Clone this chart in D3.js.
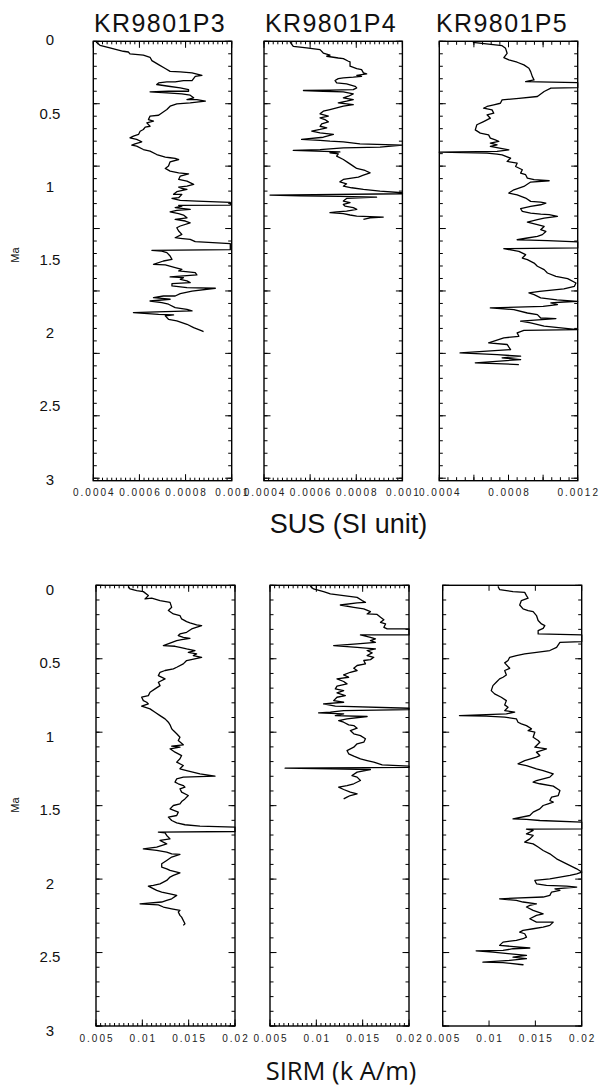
<!DOCTYPE html>
<html>
<head>
<meta charset="utf-8">
<script src="https://cdn.jsdelivr.net/npm/d3@7"></script>
<style>
body { margin: 0; background: #fff; }
text { font-family: "Liberation Sans", Arial, sans-serif; fill: #111; }
</style>
</head>
<body>
<script>
// ages in Ma; SUS values in 1e-4 SI, SIRM values in 1e-3 kA/m
var coreNames = ["KR9801P3", "KR9801P4", "KR9801P5"];
var ageLabels = [0, 0.5, 1, 1.5, 2, 2.5, 3];
var susDomains = [[0.0004, 0.001], [0.0004, 0.001], [0.0004, 0.0012]];
var susLabels = [[0.0004, 0.0006, 0.0008, 0.001], [0.0004, 0.0006, 0.0008, 0.001], [0.0004, 0.0008, 0.0012]];
var sirmDomain = [0.005, 0.02];
var sirmLabels = [0.005, 0.01, 0.015, 0.02];

var susP3 = [[0.005,4.12],[0.027,4.29],[0.045,4.72],[0.068,5.30],[0.073,5.52],[0.086,5.59],[0.095,6.17],[0.109,6.46],[0.132,6.54],[0.159,6.83],[0.186,7.12],[0.205,7.33],[0.209,7.77],[0.216,8.28],[0.232,8.71],[0.239,8.42],[0.268,8.28],[0.268,7.91],[0.277,7.55],[0.277,7.19],[0.284,6.83],[0.295,6.75],[0.307,7.26],[0.318,7.77],[0.330,8.13],[0.341,8.13],[0.341,7.70],[0.341,7.26],[0.345,6.46],[0.352,7.19],[0.359,7.84],[0.368,8.20],[0.386,8.35],[0.398,8.06],[0.398,8.49],[0.409,8.86],[0.420,8.20],[0.427,7.62],[0.443,7.33],[0.466,7.19],[0.489,6.97],[0.505,6.83],[0.511,6.46],[0.534,6.39],[0.545,6.61],[0.557,6.32],[0.580,6.46],[0.586,6.25],[0.602,6.17],[0.614,6.03],[0.636,5.96],[0.648,5.74],[0.659,5.59],[0.670,5.88],[0.686,6.10],[0.700,5.81],[0.709,5.67],[0.716,5.88],[0.739,6.17],[0.750,6.46],[0.773,6.75],[0.791,7.12],[0.795,7.33],[0.800,7.55],[0.807,7.70],[0.823,7.33],[0.852,7.26],[0.868,7.12],[0.886,7.33],[0.898,7.70],[0.905,8.13],[0.920,7.77],[0.943,7.70],[0.955,8.06],[0.977,8.35],[0.989,8.06],[0.995,7.70],[1.005,7.84],[1.011,8.06],[1.027,7.62],[1.045,7.48],[1.045,7.84],[1.068,7.70],[1.073,7.41],[1.086,7.77],[1.091,8.49],[1.100,9.94],[1.118,9.94],[1.120,7.70],[1.125,7.84],[1.136,7.55],[1.148,8.20],[1.155,7.62],[1.164,7.33],[1.177,7.70],[1.186,7.91],[1.205,8.06],[1.216,7.55],[1.227,7.99],[1.239,8.20],[1.261,7.77],[1.273,7.62],[1.295,7.70],[1.318,7.84],[1.341,7.55],[1.345,7.77],[1.352,8.20],[1.368,8.42],[1.382,9.94],[1.423,9.94],[1.427,6.54],[1.432,6.97],[1.443,7.19],[1.466,7.33],[1.489,7.41],[1.500,7.04],[1.523,6.61],[1.527,7.12],[1.545,7.55],[1.557,7.84],[1.568,7.70],[1.580,8.42],[1.595,8.49],[1.609,7.33],[1.614,7.91],[1.625,7.77],[1.636,8.06],[1.648,8.20],[1.655,7.41],[1.670,7.41],[1.682,8.06],[1.686,9.29],[1.705,8.28],[1.723,7.77],[1.739,7.55],[1.739,7.04],[1.750,6.61],[1.761,7.33],[1.773,6.46],[1.784,6.97],[1.795,7.26],[1.818,7.55],[1.830,8.06],[1.841,8.28],[1.848,6.75],[1.852,5.74],[1.864,6.83],[1.868,7.48],[1.875,7.12],[1.898,7.26],[1.909,7.62],[1.932,8.06],[1.955,8.35],[1.977,8.71],[1.982,8.78]];

var susP4 = [[0.005,5.13],[0.034,5.27],[0.045,5.85],[0.057,6.43],[0.080,6.57],[0.095,6.86],[0.102,6.72],[0.114,7.22],[0.118,7.44],[0.136,7.66],[0.141,7.73],[0.170,7.73],[0.186,8.02],[0.193,8.23],[0.216,8.31],[0.223,8.45],[0.232,8.02],[0.239,8.23],[0.245,7.87],[0.250,7.44],[0.255,7.22],[0.268,7.08],[0.284,7.15],[0.291,7.58],[0.307,7.95],[0.318,8.02],[0.330,7.87],[0.334,6.86],[0.336,5.71],[0.341,6.57],[0.345,7.44],[0.359,7.87],[0.375,7.66],[0.386,7.44],[0.398,7.87],[0.409,7.58],[0.420,7.22],[0.432,7.87],[0.443,7.44],[0.455,7.15],[0.466,6.86],[0.477,6.57],[0.495,6.43],[0.511,6.79],[0.523,6.43],[0.534,6.64],[0.550,6.79],[0.564,6.50],[0.580,6.43],[0.591,6.72],[0.602,6.43],[0.614,6.07],[0.625,6.43],[0.636,7.01],[0.655,6.57],[0.670,5.63],[0.677,6.43],[0.682,6.86],[0.686,7.44],[0.700,8.16],[0.709,10.0],[0.723,9.03],[0.727,7.44],[0.739,6.43],[0.745,5.27],[0.750,6.28],[0.755,7.29],[0.761,6.86],[0.768,7.22],[0.784,7.15],[0.807,7.44],[0.830,7.66],[0.852,7.87],[0.868,8.02],[0.882,8.38],[0.898,8.60],[0.914,8.31],[0.927,8.09],[0.932,7.87],[0.943,7.44],[0.959,7.29],[0.973,7.58],[0.989,7.44],[1.000,7.80],[1.011,8.31],[1.023,9.03],[1.034,10.0],[1.041,10.0],[1.050,4.26],[1.055,5.56],[1.059,7.29],[1.064,8.88],[1.073,7.58],[1.091,7.44],[1.102,7.73],[1.114,7.44],[1.125,7.51],[1.136,7.87],[1.148,8.02],[1.159,7.58],[1.164,7.15],[1.170,6.86],[1.177,7.44],[1.186,7.73],[1.193,8.02],[1.200,9.17],[1.205,8.60],[1.216,8.31]];

var susP5 = [[0.007,5.94],[0.030,7.63],[0.048,7.83],[0.082,7.92],[0.111,7.73],[0.127,8.02],[0.143,8.50],[0.161,8.89],[0.184,9.18],[0.207,9.28],[0.241,9.38],[0.264,9.48],[0.270,9.18],[0.275,8.99],[0.282,12.0],[0.316,12.0],[0.320,10.45],[0.343,10.06],[0.377,9.67],[0.389,8.60],[0.400,7.63],[0.423,7.53],[0.434,7.15],[0.445,6.76],[0.457,6.56],[0.468,7.05],[0.491,7.15],[0.502,6.76],[0.525,6.95],[0.548,6.56],[0.570,6.17],[0.605,6.08],[0.627,6.37],[0.639,6.85],[0.661,6.95],[0.673,7.24],[0.684,7.44],[0.695,6.95],[0.707,7.34],[0.718,6.95],[0.741,8.02],[0.752,7.34],[0.757,4.00],[0.764,6.76],[0.770,7.34],[0.775,7.63],[0.798,8.12],[0.820,7.92],[0.832,8.50],[0.855,8.41],[0.877,8.80],[0.900,8.70],[0.911,8.99],[0.934,9.09],[0.945,9.48],[0.952,10.35],[0.961,9.28],[0.991,8.89],[1.014,8.31],[1.036,8.02],[1.048,8.50],[1.070,8.99],[1.093,9.28],[1.098,9.86],[1.105,10.16],[1.116,9.86],[1.127,9.28],[1.143,8.70],[1.161,8.80],[1.173,9.28],[1.180,9.86],[1.184,10.35],[1.195,10.83],[1.207,10.06],[1.218,9.67],[1.234,9.09],[1.252,9.67],[1.264,10.06],[1.286,9.86],[1.298,10.16],[1.320,9.96],[1.332,9.67],[1.343,9.09],[1.355,8.50],[1.358,9.28],[1.361,10.25],[1.370,12.0],[1.411,12.0],[1.416,7.73],[1.434,8.60],[1.457,8.99],[1.480,8.80],[1.491,9.09],[1.514,9.48],[1.536,9.67],[1.559,10.06],[1.582,10.25],[1.605,10.74],[1.620,11.42],[1.650,11.90],[1.673,11.81],[1.690,11.20],[1.707,9.80],[1.718,9.18],[1.730,9.48],[1.752,9.86],[1.765,10.80],[1.775,12.0],[1.780,11.20],[1.786,10.45],[1.798,10.83],[1.810,10.00],[1.820,6.95],[1.832,8.31],[1.855,9.09],[1.866,9.67],[1.889,9.86],[1.893,10.74],[1.911,8.70],[1.923,9.28],[1.945,10.06],[1.968,12.0],[1.973,8.89],[1.991,8.50],[2.014,8.60],[2.025,7.73],[2.059,6.85],[2.070,7.92],[2.105,8.12],[2.127,5.20],[2.139,7.34],[2.150,8.70],[2.161,7.63],[2.173,8.70],[2.195,6.08],[2.207,8.60]];

var sirmP3 = [[0.007,8.49],[0.025,8.67],[0.036,9.39],[0.043,10.11],[0.070,10.65],[0.093,10.29],[0.088,11.01],[0.104,11.91],[0.116,12.99],[0.150,13.17],[0.172,12.81],[0.195,13.35],[0.206,14.06],[0.229,14.24],[0.247,14.78],[0.256,15.14],[0.270,15.86],[0.274,16.40],[0.297,15.32],[0.320,14.78],[0.331,14.06],[0.342,13.88],[0.354,14.42],[0.361,15.14],[0.370,14.24],[0.376,13.71],[0.410,12.27],[0.415,13.53],[0.422,14.06],[0.433,14.78],[0.444,15.68],[0.456,14.96],[0.467,15.86],[0.478,15.50],[0.490,16.40],[0.512,14.78],[0.535,14.42],[0.558,13.71],[0.569,13.35],[0.580,12.45],[0.592,11.91],[0.615,11.73],[0.637,12.45],[0.660,11.73],[0.683,11.91],[0.705,11.37],[0.728,10.83],[0.751,10.65],[0.762,9.93],[0.785,10.11],[0.796,10.47],[0.807,10.65],[0.823,9.93],[0.841,10.83],[0.864,11.37],[0.887,11.91],[0.909,12.45],[0.932,12.81],[0.950,12.99],[0.977,13.17],[0.989,13.35],[1.011,13.71],[1.034,14.06],[1.057,13.88],[1.086,14.42],[1.095,13.17],[1.102,14.06],[1.113,12.99],[1.136,13.53],[1.159,14.24],[1.181,14.06],[1.204,13.71],[1.227,14.42],[1.249,14.06],[1.261,14.78],[1.283,16.22],[1.299,17.84],[1.306,14.42],[1.317,13.71],[1.340,13.53],[1.351,13.88],[1.363,14.42],[1.374,14.60],[1.385,14.06],[1.408,14.24],[1.431,14.96],[1.454,14.60],[1.472,14.24],[1.488,14.06],[1.499,13.35],[1.522,12.99],[1.544,13.88],[1.567,13.71],[1.578,12.81],[1.601,13.17],[1.617,13.71],[1.630,14.60],[1.639,16.22],[1.646,20.0],[1.676,20.0],[1.680,11.73],[1.685,12.45],[1.703,12.63],[1.726,12.99],[1.737,11.91],[1.760,12.63],[1.782,11.55],[1.794,10.11],[1.805,11.55],[1.816,12.63],[1.828,13.17],[1.832,14.06],[1.850,13.17],[1.873,12.63],[1.896,12.09],[1.918,12.09],[1.930,12.63],[1.941,12.99],[1.957,14.06],[1.975,13.35],[1.986,12.99],[2.009,12.63],[2.032,11.91],[2.043,11.19],[2.048,10.65],[2.077,11.55],[2.088,12.09],[2.100,12.99],[2.111,13.71],[2.134,13.17],[2.145,12.63],[2.156,12.09],[2.168,9.75],[2.175,11.73],[2.190,12.27],[2.202,13.17],[2.213,14.06],[2.224,13.88],[2.247,14.06],[2.259,14.24],[2.304,14.60],[2.315,14.42]];

var sirmP4 = [[0.007,9.34],[0.025,9.70],[0.043,10.78],[0.059,11.51],[0.070,12.95],[0.082,14.40],[0.104,14.94],[0.116,15.30],[0.120,14.40],[0.134,12.59],[0.150,14.04],[0.161,15.12],[0.179,15.84],[0.195,15.48],[0.198,16.56],[0.218,16.93],[0.234,17.29],[0.252,16.93],[0.263,17.47],[0.286,17.29],[0.297,17.65],[0.297,20.0],[0.338,20.0],[0.338,14.76],[0.354,15.84],[0.365,16.38],[0.376,15.84],[0.388,16.38],[0.399,14.40],[0.410,11.87],[0.422,14.40],[0.429,15.66],[0.433,16.38],[0.444,15.48],[0.460,16.02],[0.478,15.48],[0.490,16.20],[0.506,15.84],[0.512,15.12],[0.535,15.30],[0.546,14.40],[0.565,14.04],[0.580,14.40],[0.592,13.67],[0.610,12.95],[0.626,13.49],[0.637,12.23],[0.655,12.95],[0.671,13.31],[0.687,12.23],[0.705,12.05],[0.717,12.95],[0.732,12.23],[0.751,13.13],[0.762,12.23],[0.785,11.87],[0.796,12.95],[0.807,10.78],[0.823,12.05],[0.837,20.0],[0.846,20.0],[0.853,12.95],[0.864,11.51],[0.868,10.24],[0.875,12.95],[0.887,12.05],[0.893,15.48],[0.909,13.31],[0.921,12.41],[0.932,12.95],[0.950,13.49],[0.955,14.04],[0.973,14.40],[0.989,13.67],[1.011,14.04],[1.023,14.76],[1.045,15.30],[1.068,15.12],[1.079,14.40],[1.102,14.04],[1.125,13.31],[1.147,13.49],[1.163,14.04],[1.181,14.76],[1.193,15.48],[1.204,16.20],[1.222,17.11],[1.231,20.0],[1.240,20.0],[1.245,6.63],[1.249,11.51],[1.254,15.84],[1.272,14.40],[1.295,13.85],[1.306,14.40],[1.329,14.76],[1.351,14.04],[1.363,13.31],[1.374,12.41],[1.390,12.95],[1.408,13.67],[1.420,14.40],[1.431,13.67],[1.442,13.31],[1.454,12.95]];

var sirmP5 = [[0.007,10.96],[0.029,11.14],[0.043,12.59],[0.048,13.85],[0.070,14.04],[0.088,14.22],[0.104,13.49],[0.134,13.31],[0.161,13.67],[0.172,14.22],[0.179,14.76],[0.206,15.12],[0.240,15.30],[0.263,15.66],[0.274,16.02],[0.293,15.84],[0.308,15.30],[0.331,15.30],[0.338,20.0],[0.383,20.0],[0.388,17.65],[0.422,17.29],[0.444,16.56],[0.456,15.12],[0.467,13.85],[0.478,12.95],[0.490,12.23],[0.512,12.05],[0.528,11.69],[0.565,12.23],[0.580,11.69],[0.610,11.87],[0.626,11.51],[0.637,11.14],[0.660,10.78],[0.683,10.42],[0.717,10.24],[0.739,10.60],[0.762,11.32],[0.785,11.87],[0.814,11.69],[0.830,12.05],[0.853,11.69],[0.864,12.77],[0.875,11.87],[0.887,6.81],[0.891,9.70],[0.898,11.69],[0.909,12.95],[0.932,13.13],[0.943,13.49],[0.955,14.04],[0.977,14.58],[0.989,14.22],[1.000,14.94],[1.034,14.76],[1.057,15.30],[1.068,15.48],[1.102,14.94],[1.113,16.20],[1.136,15.12],[1.159,15.48],[1.170,15.12],[1.193,13.85],[1.215,13.13],[1.227,14.04],[1.249,15.12],[1.261,15.84],[1.283,16.93],[1.306,16.56],[1.329,15.12],[1.340,14.76],[1.351,15.48],[1.367,16.93],[1.397,17.65],[1.431,17.47],[1.442,16.75],[1.465,16.56],[1.476,16.93],[1.488,16.38],[1.499,15.84],[1.522,15.48],[1.544,14.76],[1.567,14.40],[1.590,12.59],[1.594,14.04],[1.601,15.48],[1.612,20.0],[1.658,20.0],[1.660,14.04],[1.669,14.76],[1.692,14.04],[1.703,14.76],[1.726,14.40],[1.748,13.85],[1.760,14.76],[1.782,15.30],[1.805,15.84],[1.828,16.56],[1.862,17.29],[1.896,18.37],[1.930,19.46],[1.952,20.0],[1.964,19.46],[1.975,18.73],[1.986,17.65],[1.998,16.56],[2.009,14.94],[2.032,15.12],[2.043,16.20],[2.048,18.37],[2.054,19.46],[2.066,17.11],[2.077,17.65],[2.088,16.75],[2.111,16.56],[2.122,15.84],[2.134,11.14],[2.145,12.95],[2.156,13.67],[2.168,15.12],[2.179,14.40],[2.190,14.04],[2.213,14.76],[2.236,15.84],[2.247,15.12],[2.270,14.40],[2.293,15.12],[2.293,16.93],[2.315,16.56],[2.327,15.84],[2.338,14.76],[2.349,13.67],[2.361,13.31],[2.372,13.85],[2.395,14.04],[2.406,13.67],[2.417,12.95],[2.429,11.51],[2.451,11.14],[2.463,13.31],[2.469,14.40],[2.474,12.59],[2.485,11.51],[2.488,8.61],[2.497,10.42],[2.508,12.05],[2.519,14.04],[2.531,12.59],[2.542,14.04],[2.553,12.23],[2.565,9.34],[2.569,11.51],[2.583,13.67],[2.580,13.13]];

var width = 600, height = 1088;

var svg = d3.select("body")
    .append("svg")
    .attr("width", width)
    .attr("height", height);

// top row: SUS, frame ticks on their own 0-35.2 depth grid
var topRow = {top: 41.3, bottom: 480.7, lefts: [93.3, 264, 439.3], w: 138.4,
              labelY: 496, ageDy: -1.5, maY: 255, frameMax: 35.2};
var bottomRow = {top: 585.3, bottom: 1026, lefts: [96, 270, 442.7], w: 139,
                 labelY: 1042, ageDy: 4, maY: 805, frameMax: null};

// short inward tick marks along one edge of a frame
function yTicks(g, scale, values, xEdge, len) {
    g.append("g")
        .selectAll("line")
        .data(values)
        .join("line")
        .attr("x1", xEdge)
        .attr("x2", xEdge + len)
        .attr("y1", d => scale(d))
        .attr("y2", d => scale(d))
        .attr("stroke", "#000")
        .attr("stroke-width", 1);
}

function xTicksAt(g, scale, values, yEdge, len) {
    g.append("g")
        .selectAll("line")
        .data(values)
        .join("line")
        .attr("x1", d => scale(d))
        .attr("x2", d => scale(d))
        .attr("y1", yEdge)
        .attr("y2", yEdge + len)
        .attr("stroke", "#000")
        .attr("stroke-width", 1);
}

function panel(row, i, domain, unit, data, labels, xt) {
    var left = row.lefts[i], right = left + row.w;
    var x = d3.scaleLinear().domain(domain).range([left, right]);
    var y = d3.scaleLinear().domain([0, 3]).range([row.top, row.bottom]);
    var fy = row.frameMax ? d3.scaleLinear().domain([0, row.frameMax]).range([row.top, row.bottom]) : y;
    var yMinor = row.frameMax ? fy.ticks(35) : y.ticks(30);
    var yMajor = row.frameMax ? fy.ticks(7) : y.ticks(6);

    var g = svg.append("g");

    yTicks(g, fy, yMinor, left, 3.5);
    yTicks(g, fy, yMajor, left, 6.5);
    yTicks(g, fy, yMinor, right, -3.5);
    yTicks(g, fy, yMajor, right, -6.5);

    if (xt.minor) {
        xTicksAt(g, x, x.ticks(xt.minor), row.bottom, -xt.minorLen);
        xTicksAt(g, x, x.ticks(xt.minor), row.top, xt.minorLen);
    }
    xTicksAt(g, x, x.ticks(xt.major), row.bottom, -xt.majorLen);
    xTicksAt(g, x, x.ticks(xt.major), row.top, xt.majorLen);

    g.append("rect")
        .attr("x", left)
        .attr("y", row.top)
        .attr("width", right - left)
        .attr("height", row.bottom - row.top)
        .attr("fill", "none")
        .attr("stroke", "#000")
        .attr("stroke-width", 1.4);

    g.append("path")
        .datum(data)
        .attr("fill", "none")
        .attr("stroke", "#000")
        .attr("stroke-width", 1.3)
        .attr("stroke-linejoin", "round")
        .attr("d", d3.line().x(d => x(d[1] * unit)).y(d => y(d[0])));

    g.append("g")
        .selectAll("text")
        .data(labels)
        .join("text")
        .attr("x", d => x(d) + 1)
        .attr("y", row.labelY)
        .attr("text-anchor", "middle")
        .style("font-size", "10px")
        .style("letter-spacing", "2px")
        .style("fill", "#222")
        .text(d => String(d));

    return y;
}

function rowLabels(row, y) {
    svg.append("g")
        .selectAll("text")
        .data(ageLabels)
        .join("text")
        .attr("x", 50)
        .attr("y", d => y(d) + row.ageDy)
        .attr("text-anchor", "middle")
        .attr("dominant-baseline", "central")
        .style("font-size", "15px")
        .text(d => String(d));

    svg.append("text")
        .attr("transform", "translate(19," + row.maY + ") rotate(-90)")
        .attr("text-anchor", "middle")
        .style("font-size", "11px")
        .text("Ma");
}

var susData = [susP3, susP4, susP5];
var sirmData = [sirmP3, sirmP4, sirmP5];
var titleX = [94, 265, 436];
var yTop, yBottom;

susData.forEach(function (d, i) {
    var xt = i < 2 ? {minor: 30, minorLen: 3, major: 3, majorLen: 6.5}
                   : {minor: 16, minorLen: 3.5, major: 4, majorLen: 6};
    yTop = panel(topRow, i, susDomains[i], 1e-4, d, susLabels[i], xt);
});

sirmData.forEach(function (d, i) {
    var xt = i < 2 ? {minor: 30, minorLen: 3, major: 3, majorLen: 6.5}
                   : {minor: 0, major: 3, majorLen: 5.5};
    yBottom = panel(bottomRow, i, sirmDomain, 1e-3, d, sirmLabels, xt);
});

rowLabels(topRow, yTop);
rowLabels(bottomRow, yBottom);

svg.append("g")
    .selectAll("text")
    .data(coreNames)
    .join("text")
    .attr("x", (d, i) => titleX[i])
    .attr("y", 31.7)
    .style("font-size", "25px")
    .style("letter-spacing", "1.4px")
    .text(d => d);

svg.append("text")
    .attr("x", 348.5)
    .attr("y", 533)
    .attr("text-anchor", "middle")
    .style("font-size", "27px")
    .text("SUS (SI unit)");

svg.append("text")
    .attr("x", 341)
    .attr("y", 1080)
    .attr("text-anchor", "middle")
    .style("font-family", "'Open Sans', sans-serif")
    .style("font-size", "25.5px")
    .text("SIRM (k A/m)");
</script>
</body>
</html>
